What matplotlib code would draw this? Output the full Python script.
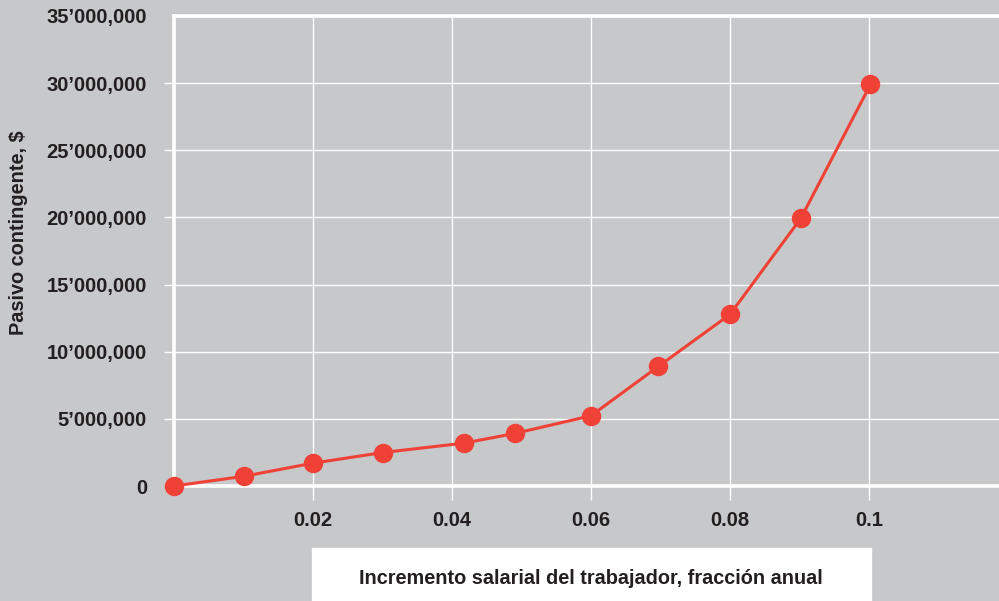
import matplotlib.pyplot as plt
from matplotlib.patches import Rectangle
from matplotlib.ticker import FuncFormatter

# data
incremento = [0.0, 0.01, 0.02, 0.03, 0.0417, 0.049, 0.060, 0.0697, 0.080, 0.0902, 0.1002]
pasivo = [0.0, 0.72e6, 1.70e6, 2.49e6, 3.19e6, 3.91e6, 5.23e6, 8.91e6, 12.78e6, 19.94e6, 29.9e6]

x_ticks = [0.02, 0.04, 0.06, 0.08, 0.1]
x_tick_labels = ['0.02', '0.04', '0.06', '0.08', '0.1']
y_ticks = [0, 5e6, 10e6, 15e6, 20e6, 25e6, 30e6, 35e6]

bg = '#c7c8ca'
red = '#ef4136'
ink = '#231f20'
font = ['Liberation Sans Narrow', 'Liberation Sans', 'DejaVu Sans']


def miles(v, pos):
    v = int(round(v))
    if v == 0:
        return '0'
    s = f'{v:,}'
    # first separator is an apostrophe, the rest commas
    parts = s.split(',')
    if len(parts) > 2:
        return parts[0] + '\u2019' + ','.join(parts[1:])
    return s


fig = plt.figure(figsize=(9.99, 6.01), dpi=100, facecolor=bg)
ax = fig.add_axes([174 / 999, 115 / 601, 825 / 999, 470 / 601], facecolor=bg)

ax.plot(incremento, pasivo, color=red, lw=2.2, marker='o', ms=14,
        markeredgewidth=0, zorder=5, clip_on=False)

ax.set_xlim(0, 0.1187)
ax.set_ylim(0, 35e6)
ax.set_xticks(x_ticks)
ax.set_xticklabels(x_tick_labels)
ax.set_yticks(y_ticks)
ax.yaxis.set_major_formatter(FuncFormatter(miles))

ax.grid(True, color='white', lw=1.0)
ax.set_axisbelow(True)
for side in ['left', 'top', 'bottom']:
    ax.spines[side].set_color('white')
    ax.spines[side].set_linewidth(2.6)
ax.spines['right'].set_visible(False)

ax.tick_params(axis='x', length=10, width=1.0, color='white', pad=8,
               labelsize=14.5, labelcolor=ink)
ax.tick_params(axis='y', length=7.5, width=1.0, color='white', pad=12,
               labelsize=14.5, labelcolor=ink)
for t in (ax.yaxis.get_major_ticks()[0], ax.yaxis.get_major_ticks()[-1]):
    t.tick1line.set_visible(False)
for lab in ax.get_xticklabels() + ax.get_yticklabels():
    lab.set_family(font)
    lab.set_fontweight('bold')

# white box holding the x axis title
fig.patches.append(Rectangle((312 / 999, 0), 559 / 999, 53 / 601,
                             transform=fig.transFigure, color='white', zorder=0))
fig.text(591 / 999, 23 / 601, 'Incremento salarial del trabajador, fracción anual',
         ha='center', va='center', fontsize=14.3, fontweight='bold', color=ink, family=font)
fig.text(19 / 999, 1 - 233 / 601, 'Pasivo contingente, $', rotation=90,
         ha='center', va='center', fontsize=14.3, fontweight='bold', color=ink, family=font)

fig.savefig('out.png', dpi=100, facecolor=bg)
